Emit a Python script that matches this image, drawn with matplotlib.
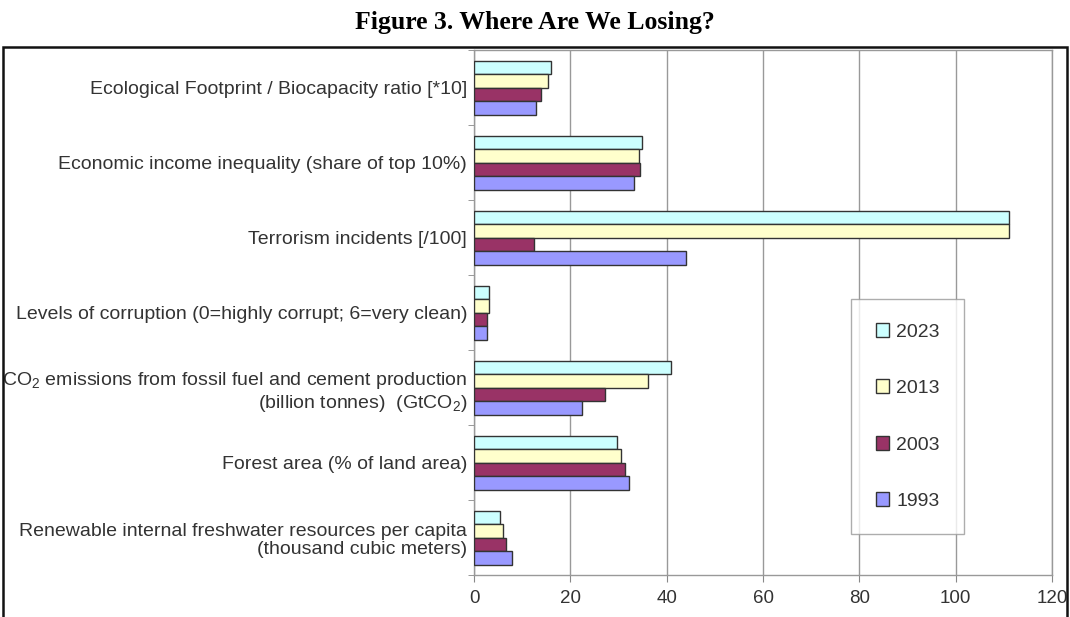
import numpy as np
import matplotlib
matplotlib.use("Agg")
import matplotlib.pyplot as plt
from matplotlib.patches import Rectangle

plt.rcParams['font.family'] = ['Liberation Sans', 'DejaVu Sans']
plt.rcParams['mathtext.default'] = 'regular'

# categories, top to bottom
categories = [
    "Ecological Footprint / Biocapacity ratio [*10]",
    "Economic income inequality (share of top 10%)",
    "Terrorism incidents [/100]",
    "Levels of corruption (0=highly corrupt; 6=very clean)",
    "CO$_2$ emissions from fossil fuel and cement production\n(billion tonnes)  (GtCO$_2$)",
    "Forest area (% of land area)",
    "Renewable internal freshwater resources per capita\n(thousand cubic meters)",
]

years = ["2023", "2013", "2003", "1993"]
v2023 = [16.0, 34.9, 111.0, 3.1, 40.8, 29.7, 5.5]
v2013 = [15.4, 34.2, 111.0, 3.1, 36.1, 30.6, 6.1]
v2003 = [13.9, 34.4, 12.4, 2.6, 27.3, 31.3, 6.6]
v1993 = [12.9, 33.2, 44.0, 2.6, 22.5, 32.1, 7.8]
series = [v2023, v2013, v2003, v1993]
colors = ["#ccffff", "#ffffcc", "#993366", "#9999ff"]

fig = plt.figure(figsize=(10.7, 6.17), dpi=100)
ax = fig.add_axes([474 / 1070, 42 / 617, 578 / 1070, 525 / 617])

y = np.arange(len(categories))
h = 0.18
for i, (vals, col, yr) in enumerate(zip(series, colors, years)):
    ax.barh(y + (i - 1.5) * h, vals, height=h, color=col, edgecolor="#333333",
            linewidth=1.0, label=yr, zorder=3)

ax.set_xlim(0, 120)
ax.set_ylim(len(categories) - 0.5, -0.5)
ax.set_xticks(np.arange(0, 121, 20))
ax.set_yticks(y)
ax.set_yticklabels(categories, fontsize=14, color="#333333", ha="right",
                   linespacing=1.15)
ax.set_yticks(np.arange(len(categories) + 1) - 0.5, minor=True)
ax.tick_params(axis="y", which="major", length=0, pad=5)
ax.tick_params(axis="y", which="minor", length=4, color="#888888")
ax.tick_params(axis="x", length=5, color="#888888", labelsize=13.5, labelcolor="#333333", pad=6)
ax.grid(axis="x", color="#999999", linewidth=1.0, zorder=0)
for s in ax.spines.values():
    s.set_color("#999999")
    s.set_linewidth(1.0)

leg = ax.legend(loc="upper left", bbox_to_anchor=(0.636, 0.545), fontsize=14,
                frameon=True, fancybox=False, edgecolor="#999999",
                handlelength=0.7, handleheight=0.7, handletextpad=0.35,
                labelspacing=2.0, borderpad=1.25)
leg.get_frame().set_linewidth(1.0)
for t in leg.get_texts():
    t.set_color("#333333")

# outer frame
fig.patches.append(Rectangle((3 / 1070, -0.05), 1064 / 1070, 0.05 + (617 - 47) / 617,
                             transform=fig.transFigure, fill=False,
                             edgecolor="#111111", linewidth=1.8))

fig.text(0.5, 1 - 22 / 617, "Figure 3. Where Are We Losing?", ha="center", va="center",
         fontsize=18.5, fontweight="bold", family=["Liberation Serif", "DejaVu Serif"])

fig.savefig("out.png", dpi=100)
